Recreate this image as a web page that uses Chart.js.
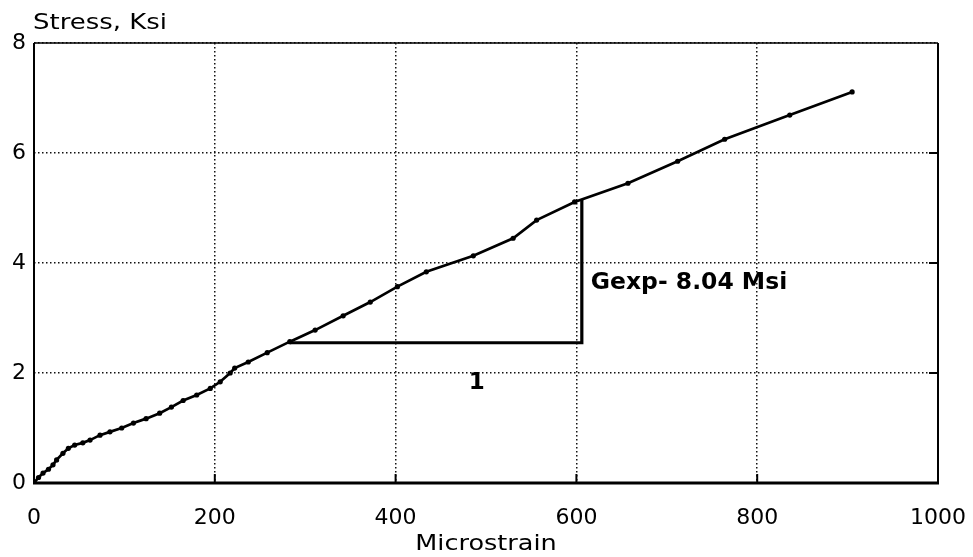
<!DOCTYPE html>
<html>
<head>
<meta charset="utf-8">
<script src="https://cdn.jsdelivr.net/npm/chart.js@4"></script>
<style>
  html, body { margin: 0; padding: 0; background: #fff; }
  #wrap { width: 973px; height: 557px; position: relative; }
</style>
</head>
<body>
<div id="wrap"><canvas id="c"></canvas></div>
<script>
// Shear stress vs. microstrain test record
const strain = [0, 5, 10, 16, 21, 25, 32, 38, 45, 54, 62, 73, 84, 97, 110, 124, 139, 152, 165, 180,
                195, 206, 217, 222, 237, 258, 283, 311, 342, 372, 402, 434, 486, 530, 556, 598, 657, 712, 764, 836, 905];
const stress = [0, 0.1, 0.18, 0.25, 0.33, 0.42, 0.54, 0.63, 0.69, 0.73, 0.78, 0.87, 0.93, 1.0, 1.09, 1.17, 1.27, 1.38, 1.5, 1.6,
                1.72, 1.84, 2.0, 2.09, 2.2, 2.37, 2.57, 2.78, 3.04, 3.29, 3.57, 3.84, 4.13, 4.45, 4.78, 5.11, 5.45, 5.85, 6.25, 6.69, 7.11];

// Slope triangle: base start, run (microstrain) and modulus (Msi)
const slopeStart = [283, 2.55];
const slopeRun = 323;
const gExp = 8.04;
const slopeRise = slopeRun * gExp / 1000;   // ksi per microstrain = Msi / 1000

const xTicks = [0, 200, 400, 600, 800, 1000];
const yTicks = [0, 2, 4, 6, 8];

const xTitle = 'Microstrain';
const yTitle = 'Stress, Ksi';
const slopeLabel = 'Gexp- ' + gExp.toFixed(2) + ' Msi';
const runLabel = '1';

const curve = strain.map((x, i) => ({ x, y: stress[i] }));
const triangle = [
  { x: slopeStart[0], y: slopeStart[1] },
  { x: slopeStart[0] + slopeRun, y: slopeStart[1] },
  { x: slopeStart[0] + slopeRun, y: slopeStart[1] + slopeRise }
];

const FONT = '"DejaVu Sans", "Liberation Sans", sans-serif';

// draws text stretched horizontally, as the wide typeface of the original plot
function wideText(ctx, text, x, y, sx, align) {
  ctx.save();
  const w = ctx.measureText(text).width * sx;
  const left = align === 'center' ? x - w / 2 : x;
  ctx.translate(left, y);
  ctx.scale(sx, 1);
  ctx.textAlign = 'left';
  ctx.fillText(text, 0, 0);
  ctx.restore();
}

const frame = {
  id: 'frame',
  afterDatasetsDraw(chart) {
    const { ctx, chartArea: a, scales: { x, y } } = chart;
    ctx.save();
    ctx.strokeStyle = '#000';
    ctx.lineCap = 'butt';
    // inner tick marks
    ctx.lineWidth = 2;
    xTicks.slice(1, -1).forEach(v => {
      const px = x.getPixelForValue(v);
      ctx.beginPath(); ctx.moveTo(px, a.bottom); ctx.lineTo(px, a.bottom - 9); ctx.stroke();
    });
    yTicks.slice(1, -1).forEach(v => {
      const py = y.getPixelForValue(v);
      ctx.beginPath(); ctx.moveTo(a.right, py); ctx.lineTo(a.right - 9, py); ctx.stroke();
    });
    // plot frame
    ctx.lineWidth = 1.5;
    ctx.beginPath(); ctx.moveTo(a.left, a.top); ctx.lineTo(a.right, a.top); ctx.stroke();
    ctx.lineWidth = 2;
    ctx.beginPath(); ctx.moveTo(a.left, a.top); ctx.lineTo(a.left, a.bottom); ctx.stroke();
    ctx.beginPath(); ctx.moveTo(a.right, a.top); ctx.lineTo(a.right, a.bottom); ctx.stroke();
    ctx.lineWidth = 3;
    ctx.beginPath(); ctx.moveTo(a.left - 1, a.bottom); ctx.lineTo(a.right + 1, a.bottom); ctx.stroke();

    ctx.fillStyle = '#000';
    ctx.textBaseline = 'alphabetic';
    // axis titles
    ctx.font = '22px ' + FONT;
    wideText(ctx, yTitle, a.left - 1, a.top - 14, 1.18, 'left');
    wideText(ctx, xTitle, (a.left + a.right) / 2, chart.height - 7, 1.16, 'center');

    // slope annotations
    ctx.font = 'bold 23px ' + FONT;
    ctx.textBaseline = 'middle';
    wideText(ctx, slopeLabel, x.getPixelForValue(slopeStart[0] + slopeRun) + 9,
             y.getPixelForValue(slopeStart[1] + slopeRise * 0.42), 1.02, 'left');
    wideText(ctx, runLabel, x.getPixelForValue(slopeStart[0] + slopeRun * 0.64),
             y.getPixelForValue(slopeStart[1] - 0.74), 1.0, 'center');
    ctx.restore();
  }
};

new Chart(document.getElementById('c'), {
  type: 'scatter',
  data: {
    datasets: [
      {
        data: curve,
        showLine: true,
        borderColor: '#000',
        backgroundColor: '#000',
        borderWidth: 2.7,
        pointRadius: 2.6,
        pointBorderWidth: 0,
        tension: 0
      },
      {
        data: triangle,
        showLine: true,
        borderColor: '#000',
        borderWidth: 3.2,
        pointRadius: 0,
        tension: 0
      }
    ]
  },
  options: {
    responsive: true,
    maintainAspectRatio: false,
    animation: false,
    layout: { padding: { top: 43, right: 35, left: 0, bottom: 0 } },
    plugins: { legend: { display: false }, tooltip: { enabled: false } },
    scales: {
      x: {
        type: 'linear',
        min: 0, max: 1000,
        afterBuildTicks: s => { s.ticks = xTicks.map(v => ({ value: v })); },
        afterFit: s => { s.height = 74; s.paddingLeft = 0; s.paddingRight = 0; },
        ticks: {
          color: '#000', padding: 22, maxRotation: 0,
          font: { family: FONT, size: 22 },
          callback: v => String(v)
        },
        grid: { color: '#111', lineWidth: 1.5, drawTicks: false },
        border: { display: false, dash: [1.5, 2.5] },
        title: { display: false }
      },
      y: {
        type: 'linear',
        min: 0, max: 8,
        afterBuildTicks: s => { s.ticks = yTicks.map(v => ({ value: v })); },
        afterFit: s => { s.width = 34; s.paddingTop = 0; s.paddingBottom = 0; },
        ticks: { color: '#000', padding: 8, font: { family: FONT, size: 22 }, callback: v => String(v) },
        grid: { color: '#111', lineWidth: 1.5, drawTicks: false },
        border: { display: false, dash: [1.5, 2.5] }
      }
    }
  },
  plugins: [frame]
});
</script>
</body>
</html>
